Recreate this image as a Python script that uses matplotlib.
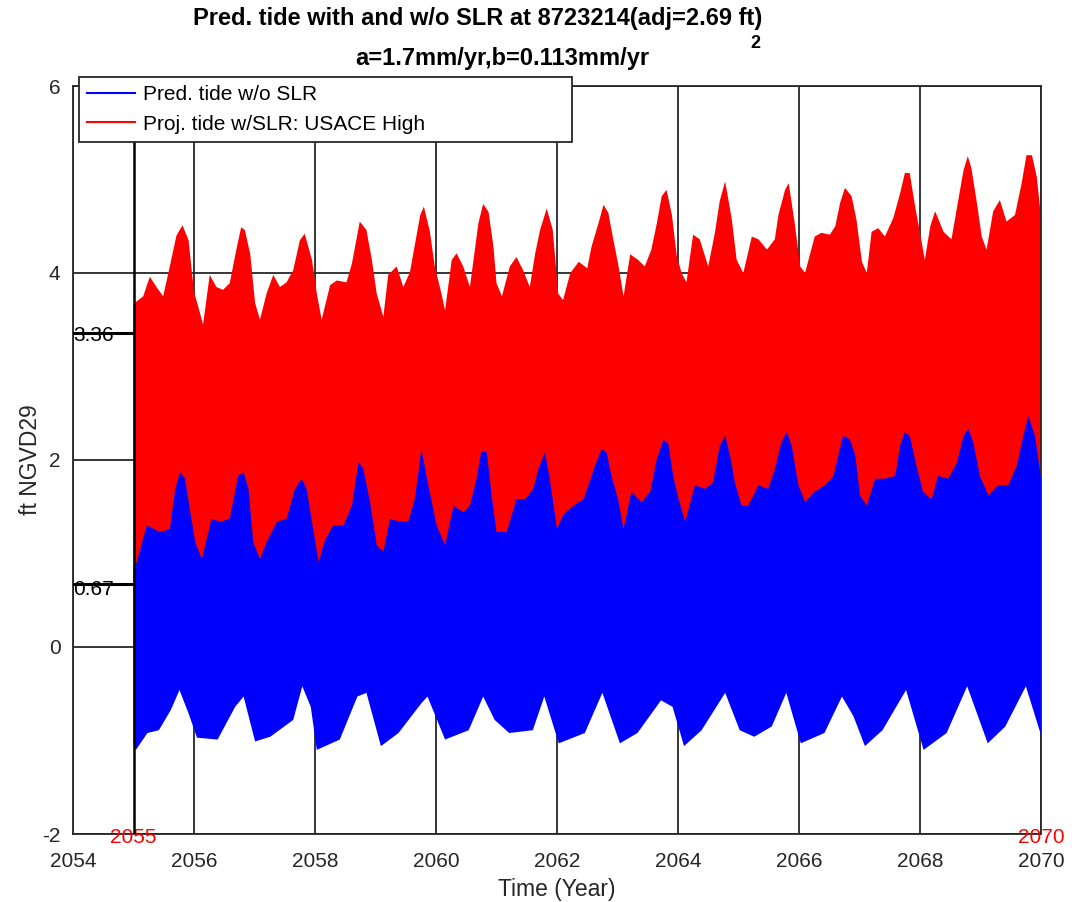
import numpy as np
import matplotlib
matplotlib.use('Agg')
import matplotlib.pyplot as plt
from matplotlib.lines import Line2D

plt.rcParams['font.family'] = ['Liberation Sans', 'DejaVu Sans']
plt.rcParams['axes.unicode_minus'] = False

# upper edge of the projected tide (w/ SLR), ft
red_hi_t = [2055.00, 2055.02, 2055.16, 2055.27, 2055.38, 2055.49, 2055.60, 2055.71, 2055.81, 2055.91,
            2056.00, 2056.10, 2056.15, 2056.26, 2056.37, 2056.48, 2056.59, 2056.70, 2056.78, 2056.84, 2056.93,
            2057.01, 2057.09, 2057.20, 2057.31, 2057.42, 2057.53, 2057.64, 2057.75, 2057.83, 2057.95,
            2058.03, 2058.11, 2058.25, 2058.36, 2058.52, 2058.61, 2058.74, 2058.85, 2058.94,
            2059.02, 2059.13, 2059.21, 2059.35, 2059.46, 2059.57, 2059.65, 2059.74, 2059.80, 2059.90, 2059.98,
            2060.09, 2060.15, 2060.26, 2060.34, 2060.45, 2060.56, 2060.62, 2060.70, 2060.78, 2060.87, 2060.95,
            2061.00, 2061.09, 2061.22, 2061.33, 2061.44, 2061.55, 2061.64, 2061.72, 2061.83, 2061.93,
            2062.02, 2062.10, 2062.22, 2062.36, 2062.50, 2062.57, 2062.68, 2062.77, 2062.85, 2062.93,
            2063.01, 2063.10, 2063.21, 2063.34, 2063.45, 2063.56, 2063.65, 2063.73, 2063.81, 2063.90, 2063.98,
            2064.06, 2064.14, 2064.25, 2064.36, 2064.50, 2064.61, 2064.69, 2064.78, 2064.89, 2064.97,
            2065.08, 2065.22, 2065.33, 2065.47, 2065.60, 2065.66, 2065.77, 2065.83, 2065.93,
            2066.02, 2066.10, 2066.26, 2066.37, 2066.51, 2066.60, 2066.68, 2066.76, 2066.87, 2066.95,
            2067.04, 2067.12, 2067.20, 2067.31, 2067.42, 2067.56, 2067.67, 2067.75, 2067.83, 2067.92,
            2068.00, 2068.08, 2068.17, 2068.25, 2068.39, 2068.52, 2068.63, 2068.72, 2068.79, 2068.85, 2068.94,
            2069.02, 2069.10, 2069.21, 2069.32, 2069.43, 2069.57, 2069.68, 2069.76, 2069.85, 2069.93, 2070.00]
red_hi = [3.65, 3.68, 3.75, 3.96, 3.85, 3.75, 4.07, 4.40, 4.51, 4.35,
          3.80, 3.57, 3.45, 3.98, 3.85, 3.82, 3.89, 4.25, 4.49, 4.46, 4.20,
          3.68, 3.50, 3.78, 3.98, 3.85, 3.90, 4.03, 4.35, 4.42, 4.14,
          3.78, 3.50, 3.87, 3.92, 3.90, 4.10, 4.55, 4.46, 4.14,
          3.78, 3.53, 3.98, 4.07, 3.85, 4.01, 4.30, 4.62, 4.71, 4.44, 4.07,
          3.78, 3.60, 4.14, 4.21, 4.07, 3.85, 4.14, 4.53, 4.74, 4.65, 4.28,
          3.89, 3.75, 4.07, 4.17, 4.03, 3.85, 4.21, 4.46, 4.69, 4.46,
          3.78, 3.71, 4.00, 4.12, 4.05, 4.28, 4.52, 4.73, 4.64, 4.36,
          4.10, 3.75, 4.20, 4.14, 4.07, 4.25, 4.53, 4.82, 4.89, 4.62, 4.18,
          4.00, 3.90, 4.41, 4.36, 4.07, 4.43, 4.77, 4.98, 4.57, 4.14,
          4.00, 4.39, 4.36, 4.25, 4.36, 4.62, 4.89, 4.96, 4.53,
          4.07, 4.00, 4.39, 4.43, 4.41, 4.50, 4.75, 4.91, 4.82, 4.57,
          4.12, 4.00, 4.44, 4.48, 4.39, 4.59, 4.85, 5.07, 5.07, 4.71,
          4.43, 4.14, 4.50, 4.66, 4.44, 4.36, 4.77, 5.10, 5.25, 5.12, 4.75,
          4.39, 4.25, 4.66, 4.78, 4.55, 4.62, 4.96, 5.26, 5.26, 5.03, 4.60]

# lower edge of the projected tide (mostly hidden under the blue)
red_lo_t = [2055.0, 2056.1, 2057.1, 2058.05, 2059.1, 2060.1, 2061.1, 2062.0,
            2063.1, 2064.1, 2065.1, 2066.1, 2067.1, 2068.1, 2069.1, 2070.0]
red_lo = [0.72, 0.90, 0.88, 0.86, 0.93, 1.05, 1.10, 1.15,
          1.20, 1.28, 1.33, 1.38, 1.42, 1.48, 1.52, 1.58]

# predicted tide w/o SLR, upper edge
blue_hi_t = [2055.00, 2055.05, 2055.22, 2055.44, 2055.60, 2055.69, 2055.77, 2055.85, 2055.93,
             2056.02, 2056.13, 2056.29, 2056.43, 2056.59, 2056.73, 2056.82, 2056.90, 2056.98,
             2057.09, 2057.20, 2057.37, 2057.53, 2057.67, 2057.78, 2057.86, 2057.95,
             2058.06, 2058.17, 2058.30, 2058.47, 2058.61, 2058.72, 2058.80, 2058.91,
             2059.02, 2059.13, 2059.24, 2059.40, 2059.54, 2059.65, 2059.76, 2059.85, 2059.93,
             2060.01, 2060.15, 2060.29, 2060.45, 2060.56, 2060.67, 2060.75, 2060.84, 2060.92,
             2061.00, 2061.17, 2061.33, 2061.47, 2061.61, 2061.69, 2061.80, 2061.88,
             2062.00, 2062.10, 2062.27, 2062.44, 2062.63, 2062.74, 2062.82, 2062.90,
             2063.01, 2063.10, 2063.23, 2063.40, 2063.54, 2063.65, 2063.76, 2063.84, 2063.92,
             2064.01, 2064.12, 2064.28, 2064.45, 2064.58, 2064.69, 2064.78, 2064.86, 2064.94,
             2065.05, 2065.16, 2065.33, 2065.49, 2065.60, 2065.71, 2065.80, 2065.88, 2065.99,
             2066.10, 2066.26, 2066.43, 2066.57, 2066.65, 2066.73, 2066.84, 2066.93,
             2067.01, 2067.12, 2067.26, 2067.42, 2067.59, 2067.67, 2067.75, 2067.83, 2067.94,
             2068.05, 2068.19, 2068.30, 2068.47, 2068.61, 2068.72, 2068.80, 2068.88, 2068.99,
             2069.13, 2069.29, 2069.46, 2069.60, 2069.71, 2069.79, 2069.90, 2070.00]
blue_hi = [0.84, 0.90, 1.30, 1.23, 1.26, 1.69, 1.87, 1.80, 1.48,
           1.12, 0.94, 1.37, 1.34, 1.37, 1.83, 1.87, 1.69, 1.12,
           0.94, 1.12, 1.34, 1.37, 1.69, 1.80, 1.69, 1.34,
           0.91, 1.15, 1.30, 1.30, 1.51, 1.98, 1.90, 1.55,
           1.09, 1.02, 1.37, 1.34, 1.34, 1.58, 2.12, 1.80, 1.55,
           1.30, 1.09, 1.51, 1.44, 1.51, 1.80, 2.10, 2.08, 1.62,
           1.23, 1.23, 1.58, 1.58, 1.69, 1.90, 2.08, 1.80,
           1.26, 1.41, 1.51, 1.58, 1.94, 2.12, 2.08, 1.83,
           1.58, 1.26, 1.66, 1.55, 1.66, 2.01, 2.22, 2.17, 1.83,
           1.58, 1.34, 1.73, 1.69, 1.76, 2.15, 2.26, 2.05, 1.76,
           1.51, 1.51, 1.73, 1.69, 1.90, 2.19, 2.30, 2.15, 1.73,
           1.55, 1.66, 1.73, 1.83, 2.05, 2.26, 2.22, 2.05,
           1.62, 1.51, 1.80, 1.80, 1.83, 2.15, 2.30, 2.26, 1.94,
           1.66, 1.58, 1.83, 1.80, 1.97, 2.26, 2.33, 2.19, 1.83,
           1.62, 1.73, 1.73, 1.94, 2.26, 2.47, 2.26, 1.80]

# predicted tide w/o SLR, lower edge
blue_lo_t = [2055.00, 2055.04, 2055.23, 2055.42, 2055.62, 2055.76, 2055.91, 2056.05, 2056.39, 2056.68, 2056.82,
             2057.01, 2057.26, 2057.64, 2057.79, 2057.93, 2058.03, 2058.41, 2058.70, 2058.85,
             2059.09, 2059.38, 2059.76, 2059.86, 2060.15, 2060.54, 2060.78, 2060.97,
             2061.21, 2061.60, 2061.79, 2062.03, 2062.46, 2062.75, 2063.04, 2063.33, 2063.72, 2063.91,
             2064.10, 2064.39, 2064.78, 2065.02, 2065.26, 2065.55, 2065.79, 2066.03, 2066.42, 2066.71, 2066.90,
             2067.09, 2067.38, 2067.77, 2068.06, 2068.44, 2068.78, 2069.12, 2069.41, 2069.75, 2069.99, 2070.00]
blue_lo = [-1.05, -1.10, -0.92, -0.89, -0.67, -0.46, -0.71, -0.97, -0.99, -0.64, -0.53,
           -1.01, -0.96, -0.78, -0.42, -0.64, -1.10, -0.99, -0.53, -0.49,
           -1.06, -0.92, -0.60, -0.53, -0.99, -0.89, -0.53, -0.78,
           -0.92, -0.89, -0.53, -1.03, -0.92, -0.49, -1.03, -0.92, -0.57, -0.64,
           -1.06, -0.89, -0.49, -0.89, -0.96, -0.85, -0.49, -1.03, -0.92, -0.53, -0.74,
           -1.06, -0.89, -0.46, -1.10, -0.92, -0.42, -1.03, -0.85, -0.42, -0.92, -0.95]

xticks = [2054, 2056, 2058, 2060, 2062, 2064, 2066, 2068, 2070]
yticks = [-2, 0, 2, 4, 6]
start_year, end_year = 2055, 2070
mean_slr, mean_noslr = 3.36, 0.67

fig = plt.figure(figsize=(10.72, 9.02), dpi=100)
ax = fig.add_axes([73/1072, 1 - 834/902, (1041 - 73)/1072, (834 - 86)/902])

# red first, blue over it
ax.fill(np.r_[red_hi_t, red_lo_t[::-1]], np.r_[red_hi, red_lo[::-1]],
        color='#ff0000', lw=0, zorder=2)
ax.fill(np.r_[blue_hi_t, blue_lo_t[::-1]], np.r_[blue_hi, blue_lo[::-1]],
        color='#0000ff', lw=0, zorder=3)

ax.set_xlim(2054, 2070)
ax.set_ylim(-2, 6)
ax.set_xticks(xticks)
ax.set_yticks(yticks)
ax.set_axisbelow(True)
ax.grid(True, color='#262626', lw=1.3)
ax.tick_params(length=0, labelsize=15, labelcolor='#262626')
ax.tick_params(axis='x', pad=13)
ax.tick_params(axis='y', pad=9)
for s in ax.spines.values():
    s.set_color('#262626')
    s.set_linewidth(1.3)

# start marker and mean levels
ax.axvline(start_year, color='black', lw=1.8, zorder=4)
ax.plot([2054, start_year], [mean_slr, mean_slr], color='black', lw=2.2, zorder=4)
ax.plot([2054, start_year], [mean_noslr, mean_noslr], color='black', lw=2.2, zorder=4)
ax.text(2054, mean_slr - 0.03, f'{mean_slr:.2f}', fontsize=15, ha='left', va='center', zorder=5)
ax.text(2054, mean_noslr - 0.05, f'{mean_noslr:.2f}', fontsize=15, ha='left', va='center', zorder=5)
ax.text(start_year, -2.04, str(start_year), color='red', fontsize=15, ha='center', va='center')
ax.text(end_year, -2.04, str(end_year), color='red', fontsize=15, ha='center', va='center')

ax.set_xlabel('Time (Year)', fontsize=16.5, color='#262626', labelpad=5)
ax.set_ylabel('ft NGVD29', fontsize=16.5, color='#262626', labelpad=0)

fig.text(478/1072, 1 - 18/902, 'Pred. tide with and w/o SLR at 8723214(adj=2.69 ft)',
         fontsize=17, fontweight='bold', ha='center', va='center')
fig.text(502/1072, 1 - 58/902, 'a=1.7mm/yr,b=0.113mm/yr',
         fontsize=17, fontweight='bold', ha='center', va='center')
fig.text(755/1072, 1 - 43/902, '2', fontsize=13, fontweight='bold', ha='center', va='center')

handles = [Line2D([], [], color='#0000ff', lw=1.5), Line2D([], [], color='#ff0000', lw=1.5)]
leg = ax.legend(handles, ['Pred. tide w/o SLR', 'Proj. tide w/SLR: USACE High'],
                loc='upper left', bbox_to_anchor=(79/1072, 1 - 141/902, (572 - 79)/1072, 64/902),
                bbox_transform=fig.transFigure, mode='expand', borderaxespad=0,
                fontsize=15, handlelength=2.3, handletextpad=0.35, labelspacing=0.5,
                borderpad=0.4, fancybox=False, framealpha=1, edgecolor='#262626')
leg.get_frame().set_linewidth(1.3)
leg.set_zorder(10)

fig.savefig('out.png', dpi=100)
